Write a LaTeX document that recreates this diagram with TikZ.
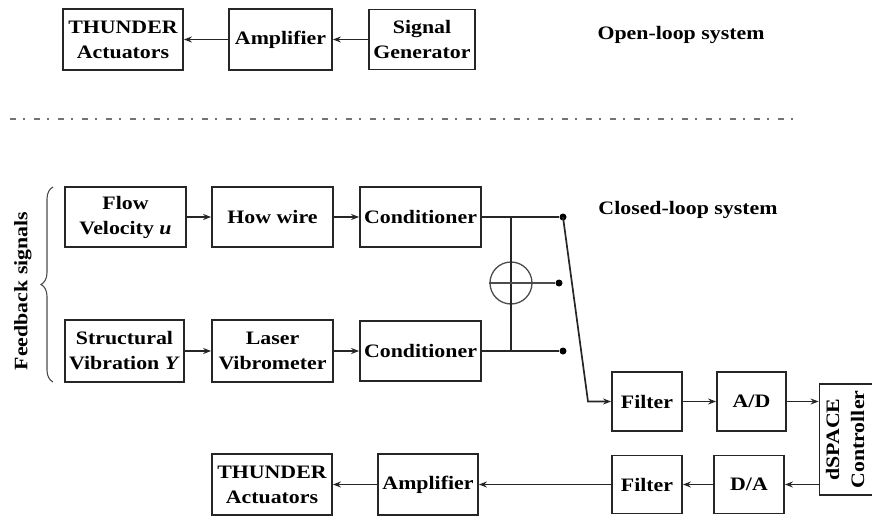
\documentclass[tikz,border=0pt]{standalone}
\usepackage{fontspec}
\setmainfont[FakeStretch=1.15]{Liberation Serif}
\usepackage{tikz}
\usetikzlibrary{arrows.meta,positioning,decorations.pathreplacing}

\begin{document}
\begin{tikzpicture}[
  x=1pt, y=-1pt,
  font=\bfseries\fontsize{19}{25}\selectfont,
  >=Stealth,
  block/.style={
    draw=black!85, line width=1.8pt, align=center,
    inner sep=2pt, minimum width=121pt, minimum height=60pt
  },
  small/.style={block, minimum width=70pt, minimum height=59pt},
  arr/.style={-{Stealth[length=8pt,width=6pt]}, line width=1.7pt, draw=black!85},
  wire/.style={line width=1.7pt, draw=black!85},
  tap/.style={circle, fill=black, inner sep=0pt, minimum size=7pt},
  divider/.style={draw=black!55, line width=2.2pt, dash pattern=on 6pt off 7pt on 1.5pt off 9.5pt},
  lab/.style={font=\bfseries\fontsize{19}{23}\selectfont}
]
  \useasboundingbox (0,0) rectangle (872,519);

  % open loop
  \node[block, minimum width=120pt, minimum height=61pt] (actA) at (123,39.5) {THUNDER\\Actuators};
  \node[block, minimum width=103pt, minimum height=61pt] (ampA) at (280.5,39.5) {Amplifier};
  \node[block, minimum width=106pt] (sig) at (422,39.5) {Signal\\Generator};
  \node[lab] (openlbl) at (681,35) {Open-loop system};

  \draw[arr] (sig) -- (ampA);
  \draw[arr] (ampA) -- (actA);

  \coordinate (sepL) at (10,119);
  \coordinate (sepR) at (800,119);
  \draw[divider] (sepL) -- (sepR);

  % closed loop
  \node[block] (flow) at (125.5,217) {Flow\\Velocity \textit{u}};
  \node[block] (hot) at (272.5,217) {How wire};
  \node[block] (condA) at (420.5,217) {Conditioner};
  \node[block, minimum width=119pt, minimum height=62pt] (struct) at (124.5,351) {Structural\\Vibration \textit{Y}};
  \node[block, minimum height=62pt] (laser) at (272.5,351) {Laser\\Vibrometer};
  \node[block] (condB) at (420.5,351) {Conditioner};
  \node[lab] (closedlbl) at (688,210) {Closed-loop system};
  \node[lab, rotate=90] (fbk) at (23,291) {Feedback signals};

  \draw[arr] (flow) -- (hot);
  \draw[arr] (hot) -- (condA);
  \draw[arr] (struct) -- (laser);
  \draw[arr] (laser) -- (condB);

  \coordinate (brTop) at (53,187);
  \coordinate (brBot) at (53,382);
  \draw[decorate, decoration={brace, amplitude=12pt}, line width=1.1pt, draw=black!70] (brBot) -- (brTop);

  % summing junction
  \node[tap] (tA) at (563,217) {};
  \node[tap] (tB) at (563,351) {};
  \node[tap] (tS) at (559,283) {};
  \node[circle, draw=black!70, line width=1.3pt, minimum size=42pt, inner sep=0pt] (sum) at (511,283) {};
  \draw[wire] (condA) -- (tA);
  \draw[wire] (condB) -- (tB);
  \draw[wire] (condA -| sum) -- (condB -| sum);
  \draw[wire, draw=black!70, line width=1.3pt] (sum.west) -- (tS);

  % controller loop
  \node[small] (filtA) at (647,401.5) {Filter};
  \node[small, minimum width=69pt] (ad) at (751.5,401.5) {A/D};
  \node[block, minimum width=49pt, minimum height=111pt] (dsp) at (846.5,439.5)
    {\rotatebox{90}{\begin{tabular}{@{}c@{}}dSPACE\\Controller\end{tabular}}};
  \node[small, minimum height=58pt] (filtB) at (647,484.5) {Filter};
  \node[small, minimum height=58pt] (da) at (749,484.5) {D/A};
  \node[block, minimum width=100pt, minimum height=61pt] (ampB) at (428,484.5) {Amplifier};
  \node[block, minimum width=120pt, minimum height=61pt] (actB) at (272,484.5) {THUNDER\\Actuators};

  \coordinate (bend) at (588,401.5);
  \draw[arr] (tA.center) -- (bend) -- (filtA);
  \draw[arr] (filtA) -- (ad);
  \draw[arr] (ad.east) -- (ad.east -| dsp.west);
  \draw[arr] (da.east -| dsp.west) -- (da.east);
  \draw[arr] (da) -- (filtB);
  \draw[arr] (filtB) -- (ampB);
  \draw[arr] (ampB) -- (actB);
\end{tikzpicture}
\end{document}
